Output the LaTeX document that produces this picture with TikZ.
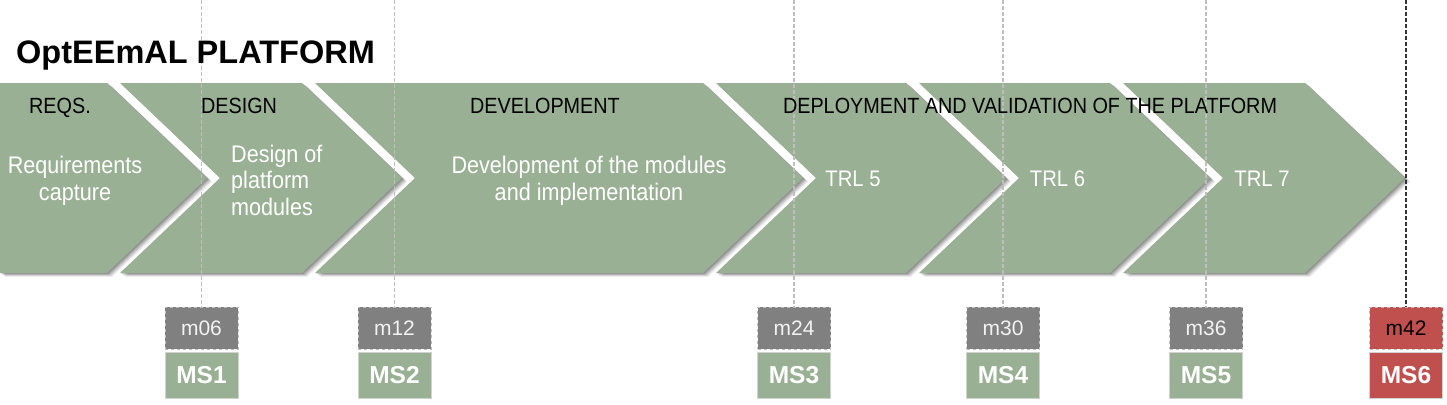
\documentclass[tikz,border=0pt]{standalone}
\usepackage{fontspec}
\setmainfont{Liberation Sans}
\newfontfamily\chevfont[FakeStretch=0.9]{Liberation Sans}
\definecolor{chevgreen}{RGB}{154,176,148}
\definecolor{msred}{RGB}{192,80,77}
\definecolor{mgray}{RGB}{128,128,128}
\definecolor{dashgray}{RGB}{190,190,190}
\definecolor{boxedge}{RGB}{210,210,210}
\newcommand\chevpath[3]{(#1,83) -- (#2,83) -- ({#2+100},178) -- (#2,273) -- (#1,273) -- (#3,178) -- cycle}
\newcommand\chevshape[3]{%
  \foreach \d/\o in {1/0.11,2/0.11,3/0.10,4/0.09,5/0.07,6/0.05}{%
    \fill[black,opacity=\o,shift={(0.9*\d,0.65*\d)}] \chevpath{#1}{#2}{#3};}%
  \fill[chevgreen] \chevpath{#1}{#2}{#3};}
\begin{document}
\begin{tikzpicture}[x=1pt,y=-1pt,
  hdr/.style={font=\chevfont\fontsize{22}{26}\selectfont, text=black, anchor=base, inner sep=0pt},
  wtxt/.style={font=\chevfont\fontsize{24}{26.5}\selectfont, text=white, align=center, inner sep=0pt},
  trltxt/.style={font=\chevfont\fontsize{22.5}{26}\selectfont, text=white, inner sep=0pt},
  mbox/.style={draw=dashgray, dashed, line width=0.8pt, fill=mgray, text=white!95!black,
    minimum width=73pt, minimum height=42pt, inner sep=0pt, font=\fontsize{21}{24}\selectfont},
  msbox/.style={draw=boxedge, line width=0.8pt, fill=chevgreen, text=white,
    minimum width=73pt, minimum height=46pt, inner sep=0pt, font=\bfseries\fontsize{24.5}{27}\selectfont},
  msline/.style={draw=dashgray, line width=1.3pt, dash pattern=on 4pt off 2pt},
  msblack/.style={draw=black!80, line width=1.3pt, dash pattern=on 4pt off 2pt}]
\useasboundingbox (0,0) rectangle (1447,404);
\fill[white] (0,0) rectangle (1447,404);

% chevrons
\chevshape{0}{107}{0}
\chevshape{120}{302}{220}
\chevshape{315}{703}{415}
\chevshape{716}{906}{816}
\chevshape{919}{1110}{1019}
\chevshape{1123}{1305}{1223}

% milestone boxes
\node[mbox] (m06) at (201.5,328) {m06};
\node[msbox] (ms1) at (201.5,375) {MS1};
\node[mbox] (m12) at (394.5,328) {m12};
\node[msbox] (ms2) at (394.5,375) {MS2};
\node[mbox] (m24) at (794,328) {m24};
\node[msbox] (ms3) at (794,375) {MS3};
\node[mbox] (m30) at (1003,328) {m30};
\node[msbox] (ms4) at (1003,375) {MS4};
\node[mbox] (m36) at (1206,328) {m36};
\node[msbox] (ms5) at (1206,375) {MS5};
\node[mbox, fill=msred, text=black] (m42) at (1406,328) {m42};
\node[msbox, fill=msred] (ms6) at (1406,375) {MS6};

% milestone lines
\coordinate (t1) at (201.5,0);
\coordinate (t2) at (394.5,0);
\coordinate (t3) at (794,0);
\coordinate (t4) at (1003,0);
\coordinate (t5) at (1206,0);
\coordinate (t6) at (1406,0);
\draw[msline] (t1) -- (m06.north);
\draw[msline] (t2) -- (m12.north);
\draw[msline] (t3) -- (m24.north);
\draw[msline] (t4) -- (m30.north);
\draw[msline] (t5) -- (m36.north);
\draw[msblack] (t6) -- (m42.north);

% title
\node[anchor=west, inner sep=0pt, font=\bfseries\fontsize{32.5}{36}\selectfont] (title) at (16,56) {OptEEmAL PLATFORM};

% headers
\node[hdr] (reqs) at (60,113) {REQS.};
\node[hdr] (design) at (239,113) {DESIGN};
\node[hdr] (devel) at (545,113) {DEVELOPMENT};
\node[hdr] (deploy) at (1030,113) {DEPLOYMENT AND VALIDATION OF THE PLATFORM};

% contents
\node[wtxt] (reqtxt) at (75,181) {Requirements\\capture};
\node[wtxt, align=left, anchor=west] (destxt) at (231,180) {Design of\\platform\\modules};
\node[wtxt] (devtxt) at (589,181) {Development of the modules\\and implementation};
\node[trltxt] (trl5) at (853,178.5) {TRL 5};
\node[trltxt] (trl6) at (1057.5,178.5) {TRL 6};
\node[trltxt] (trl7) at (1262,178.5) {TRL 7};
\end{tikzpicture}
\end{document}
